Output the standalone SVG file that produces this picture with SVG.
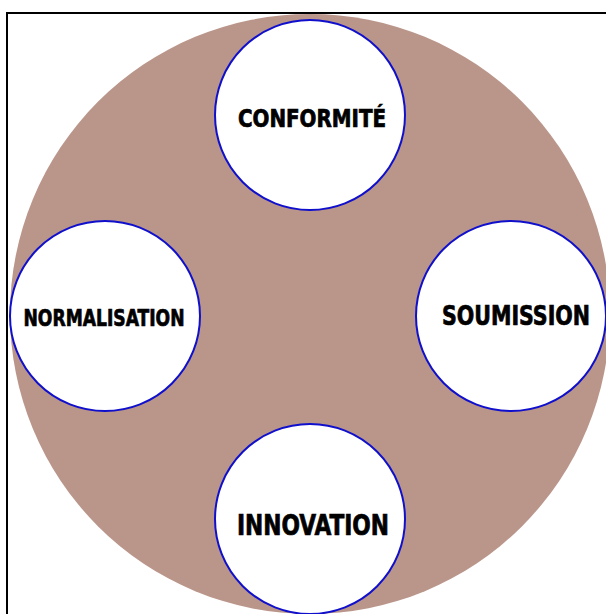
<svg xmlns="http://www.w3.org/2000/svg" width="606" height="614" viewBox="0 0 606 614">
<style>
.node circle{fill:#fff;stroke:#1010cc;stroke-width:2}
.node text{font-family:"DejaVu Sans Condensed","DejaVu Sans",sans-serif;font-weight:bold;fill:#000;stroke:#000;stroke-width:0.7;text-anchor:middle}
</style>
<rect x="0" y="0" width="606" height="614" fill="#fff"/>
<rect x="7" y="13" width="620" height="620" fill="none" stroke="#000" stroke-width="2"/>
<circle id="hub" cx="310" cy="314" r="300" fill="#ba958a"/>
<g id="connectors"></g>
<g id="conformite" class="node">
<circle cx="310" cy="115" r="95"/>
<text x="312" y="127" font-size="25" textLength="148" lengthAdjust="spacingAndGlyphs">CONFORMITÉ</text>
</g>
<g id="normalisation" class="node">
<circle cx="105" cy="316" r="95"/>
<text x="104" y="326" font-size="23" textLength="161" lengthAdjust="spacingAndGlyphs">NORMALISATION</text>
</g>
<g id="soumission" class="node">
<circle cx="511" cy="316" r="95"/>
<text x="516" y="325" font-size="27" textLength="148" lengthAdjust="spacingAndGlyphs">SOUMISSION</text>
</g>
<g id="innovation" class="node">
<circle cx="310" cy="519" r="95"/>
<text x="313" y="535" font-size="28" textLength="152" lengthAdjust="spacingAndGlyphs">INNOVATION</text>
</g>
</svg>
